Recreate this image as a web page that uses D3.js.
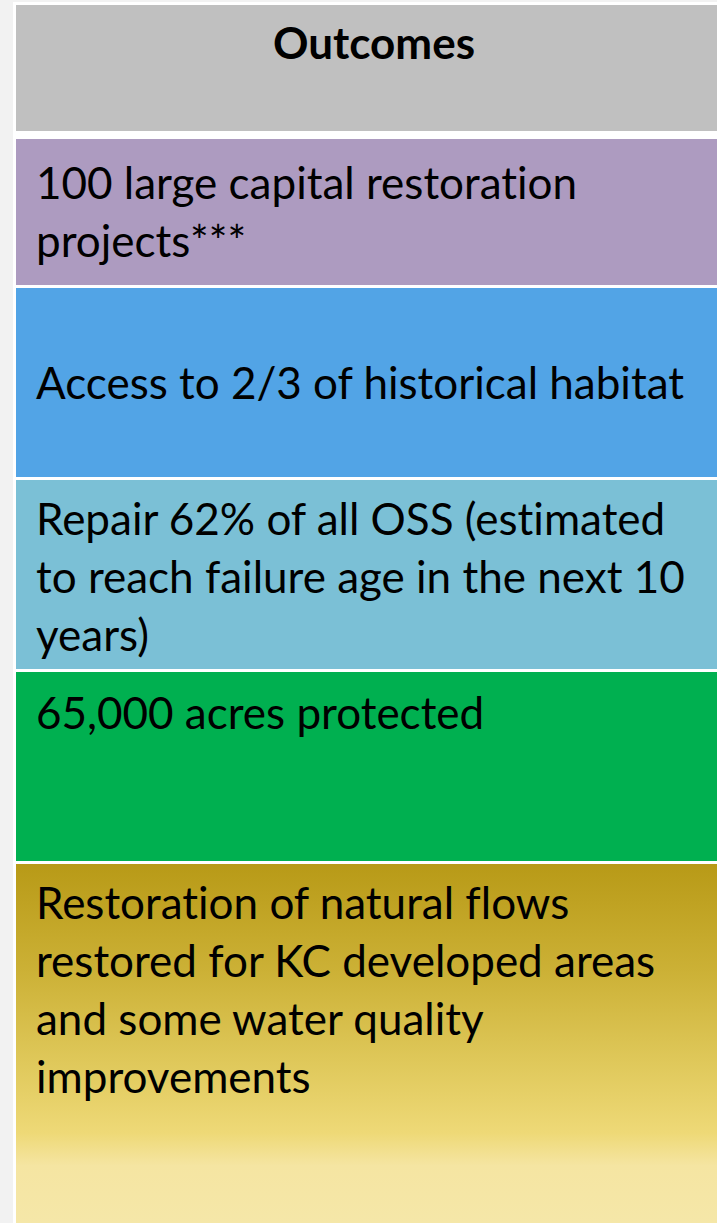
<!DOCTYPE html>
<html>
<head>
<meta charset="utf-8">
<script src="https://d3js.org/d3.v7.min.js"></script>
<style>
  html, body { margin: 0; padding: 0; background: #f2f2f2; }
  svg { display: block; }
  text { font-variant-ligatures: none; }
</style>
</head>
<body>
<div id="chart"></div>
<script>
const header = "Outcomes";

const outcomes = [
    ["100 large capital restoration", "projects***"],
    ["Access to 2/3 of historical habitat"],
    ["Repair 62% of all OSS (estimated", "to reach failure age in the next 10", "years)"],
    ["65,000 acres protected"],
    ["Restoration of natural flows", "restored for KC developed areas", "and some water quality", "improvements"]
];

const rowColors = ["#ad9bc0", "#52a4e6", "#7bc0d6", "#00b050", "url(#gold)"];
// row heights in px, header first
const rowHeights = [126, 146, 189, 189, 189, 359];
const firstBaseline = [54, 60, 111, 55, 57, 55];

const W = 717, H = 1223;
const fontFamily = "Lato, 'Open Sans', sans-serif";

const svg = d3.select("#chart")
    .append("svg")
    .attr("width", W)
    .attr("height", H);

const grad = svg.append("defs").append("linearGradient")
    .attr("id", "gold")
    .attr("x1", 0).attr("y1", 0).attr("x2", 0).attr("y2", 1);
[[0, "#b89a17"], [0.3, "#ccb136"], [0.55, "#dfc85a"], [0.75, "#eed977"], [0.84, "#f5e5a2"], [1, "#f5e7a8"]]
    .forEach(([o, c]) => grad.append("stop").attr("offset", o).attr("stop-color", c));

// white frame
svg.append("rect")
    .attr("x", 13).attr("y", 2)
    .attr("width", W - 13).attr("height", H - 2)
    .attr("fill", "#ffffff");

// row positions from heights with white gaps
const gaps = [0, 8, 3, 3, 3, 3];
const tops = [];
let y0 = 5;
rowHeights.forEach((h, i) => {
    y0 += gaps[i];
    tops.push(y0);
    y0 += h;
});

const fontSize = 44;
const lineH = 58;

// header
svg.append("rect")
    .attr("x", 16).attr("y", tops[0])
    .attr("width", W - 16).attr("height", rowHeights[0])
    .attr("fill", "#c0c0c0");
svg.append("text")
    .attr("x", 374)
    .attr("y", tops[0] + firstBaseline[0])
    .attr("text-anchor", "middle")
    .attr("font-family", fontFamily)
    .attr("font-weight", "bold")
    .attr("font-size", fontSize)
    .attr("fill", "#000")
    .text(header);

const rows = svg.selectAll("g.row")
    .data(outcomes)
    .join("g")
    .attr("class", "row")
    .attr("transform", (d, i) => `translate(16,${tops[i + 1]})`);

rows.append("rect")
    .attr("width", W - 16)
    .attr("height", (d, i) => rowHeights[i + 1])
    .attr("fill", (d, i) => rowColors[i]);

rows.each(function(lines, i) {
    d3.select(this).selectAll("text")
        .data(lines)
        .join("text")
        .attr("x", 20)
        .attr("y", (d, j) => firstBaseline[i + 1] + j * lineH)
        .attr("font-family", fontFamily)
        .attr("font-size", fontSize)
        .attr("fill", "#000")
        .text(d => d);
});
</script>
</body>
</html>
